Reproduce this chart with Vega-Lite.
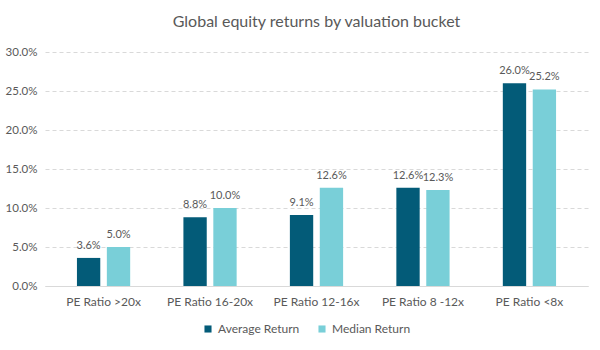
{
  "$schema": "https://vega.github.io/schema/vega-lite/v6.json",
  "width": 543,
  "height": 234,
  "padding": {"left": 5, "top": 14, "right": 8, "bottom": 5},
  "background": "white",
  "title": {"text": "Global equity returns by valuation bucket", "font": "Lato", "fontSize": 16, "fontWeight": "normal", "color": "#595959", "offset": 16, "anchor": "middle"},
  "config": {"view": {"stroke": null}, "font": "Lato"},
  "data": {"values": [
    {"bucket": "PE Ratio >20x", "series": "Average Return", "value": 0.036},
    {"bucket": "PE Ratio >20x", "series": "Median Return", "value": 0.050},
    {"bucket": "PE Ratio 16-20x", "series": "Average Return", "value": 0.088},
    {"bucket": "PE Ratio 16-20x", "series": "Median Return", "value": 0.100},
    {"bucket": "PE Ratio 12-16x", "series": "Average Return", "value": 0.091},
    {"bucket": "PE Ratio 12-16x", "series": "Median Return", "value": 0.126},
    {"bucket": "PE Ratio 8 -12x", "series": "Average Return", "value": 0.126},
    {"bucket": "PE Ratio 8 -12x", "series": "Median Return", "value": 0.123},
    {"bucket": "PE Ratio <8x", "series": "Average Return", "value": 0.260},
    {"bucket": "PE Ratio <8x", "series": "Median Return", "value": 0.252}
  ]},
  "encoding": {
    "x": {"field": "bucket", "type": "nominal", "sort": null,
      "scale": {"paddingInner": 0.5, "paddingOuter": 0.3},
      "axis": {"title": null, "labelAngle": 0, "labelFont": "Lato", "labelFontSize": 12, "labelColor": "#595959", "ticks": false, "domainColor": "#d9d9d9", "labelPadding": 10}},
    "xOffset": {"field": "series", "type": "nominal", "scale": {"paddingInner": 0.22}},
    "y": {"field": "value", "type": "quantitative",
      "scale": {"domain": [0, 0.3]},
      "axis": {"title": null, "format": ".1%", "values": [0, 0.05, 0.1, 0.15, 0.2, 0.25, 0.3], "labelOverlap": false, "labelFont": "Lato", "labelFontSize": 11.5, "labelColor": "#595959", "ticks": false, "domain": false, "gridColor": "#d9d9d9", "gridDash": [4, 3], "labelPadding": 8}}
  },
  "layer": [
    {"mark": {"type": "bar"},
     "encoding": {"color": {"field": "series", "type": "nominal",
       "scale": {"domain": ["Average Return", "Median Return"], "range": ["#035b78", "#79cfd8"]},
       "legend": {"title": null, "orient": "none", "legendX": 157, "legendY": 271, "direction": "horizontal", "symbolType": "square", "symbolSize": 50, "labelOffset": 4, "labelFont": "Lato", "labelFontSize": 12, "labelColor": "#595959", "columnPadding": 16}}}},
    {"mark": {"type": "text", "baseline": "bottom", "dy": -7, "font": "Lato", "fontSize": 11, "color": "#595959"},
     "encoding": {"text": {"field": "value", "type": "quantitative", "format": ".1%"}}}
  ]
}
